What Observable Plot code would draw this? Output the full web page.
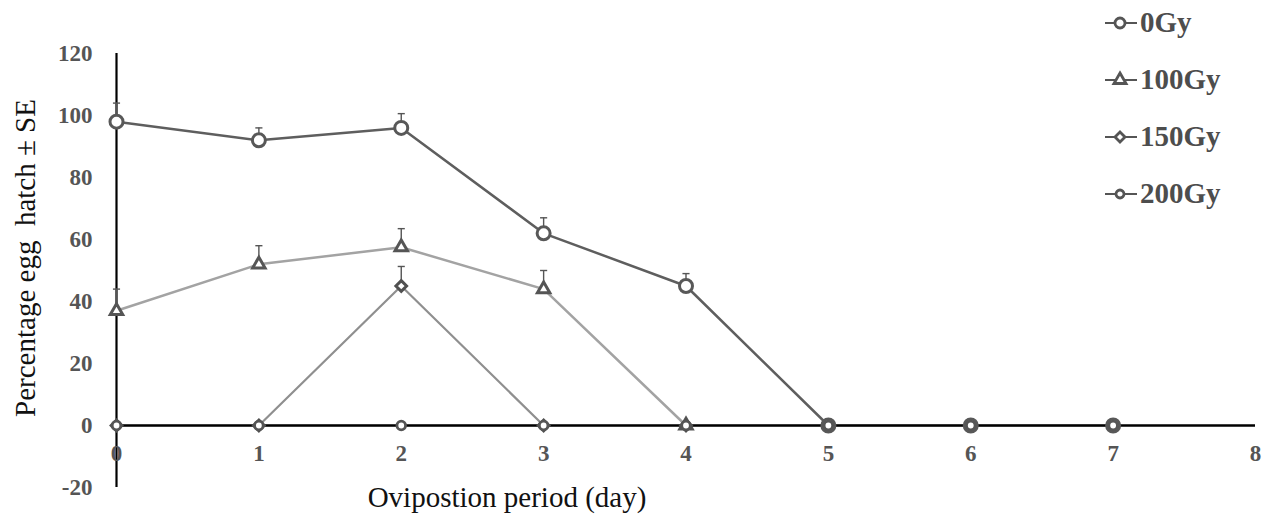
<!DOCTYPE html>
<html>
<head>
<meta charset="utf-8">
<script src="https://cdn.jsdelivr.net/npm/d3@7"></script>
<script src="https://cdn.jsdelivr.net/npm/@observablehq/plot@0.6"></script>
<style>
  html, body { margin: 0; padding: 0; background: #fff; }
  #wrap { position: relative; width: 1266px; height: 517px; overflow: hidden; font-family: "Liberation Serif", "DejaVu Serif", serif; }
  #wrap svg.plot { position: absolute; left: 0; top: 0; }
  #wrap svg.plot text { font-family: "Liberation Serif", "Times New Roman", serif; }
  .title { position: absolute; color: #111; font-size: 29px; white-space: pre; line-height: 1; }
  #ytitle { left: 25px; top: 258px; transform: translate(-50%, -50%) rotate(-90deg); }
  #xtitle { left: 507px; top: 497px; transform: translate(-50%, -50%); }
  #legend { position: absolute; left: 1100px; top: -6px; }
  .lg { display: flex; align-items: center; height: 57px; color: #4d4d4d; font-weight: bold; font-size: 29px; }
  .lg svg { margin-right: 2px; }
</style>
</head>
<body>
<div id="wrap">
  <div id="ytitle" class="title">Percentage egg  hatch ± SE</div>
  <div id="xtitle" class="title">Ovipostion period (day)</div>
  <div id="legend"></div>
</div>
<script>
// ---- data ----
const days = [0, 1, 2, 3, 4, 5, 6, 7];
const seriesNames = ["0Gy", "100Gy", "150Gy", "200Gy"];
const hatch0Gy   = [98, 92, 96, 62, 45, 0, 0, 0];
const hatch100Gy = [37, 52, 57.5, 44, 0, null, null, null];
const hatch150Gy = [0, 0, 45, 0, 0, null, null, null];
const hatch200Gy = [0, 0, 0, 0, 0, 0, 0, 0];
const se0Gy   = [6, 4, 4.6, 5, 4, 0, 0, 0];
const se100Gy = [7, 6, 6, 6, 0, 0, 0, 0];
const se150Gy = [0, 0, 6.3, 0, 0, 0, 0, 0];
const se200Gy = [0, 0, 0, 0, 0, 0, 0, 0];
const xTicks = [0, 1, 2, 3, 4, 5, 6, 7, 8];
const yTicks = [-20, 0, 20, 40, 60, 80, 100, 120];

const FONT = "Liberation Serif";

// ---- styles per series ----
const styles = {
  "0Gy":   {line: "#5e5e5e", lw: 2.5, symbol: "circle",   r: 6.5, mstroke: "#585858", msw: 3},
  "100Gy": {line: "#a3a3a3", lw: 2.5, symbol: "triangle", r: 4.6, mstroke: "#555555", msw: 3},
  "150Gy": {line: "#8f8f8f", lw: 2.2, symbol: "diamond2", r: 4.8, mstroke: "#505050", msw: 3},
  "200Gy": {line: "#666666", lw: 2,   symbol: "circle",   r: 4.3, mstroke: "#555555", msw: 2.8}
};

const values = [hatch0Gy, hatch100Gy, hatch150Gy, hatch200Gy];
const ses = [se0Gy, se100Gy, se150Gy, se200Gy];
const rows = [];
seriesNames.forEach((s, i) => {
  days.forEach((d, j) => {
    if (values[i][j] != null) rows.push({series: s, day: d, value: values[i][j], se: ses[i][j]});
  });
});
const errRows = rows.filter(r => r.se > 0);

const marks = [
  Plot.axisY(yTicks, {tickSize: 0, tickPadding: 24, fill: "#555", fontWeight: "bold", fontSize: 23, fontFamily: FONT, tickFormat: d => String(d), label: null}),
  Plot.ruleX([0], {stroke: "#000", strokeWidth: 2.2}),
  Plot.ruleY([0], {stroke: "#000", strokeWidth: 2})
];
// error bars (upper only)
marks.push(Plot.ruleX(errRows, {x: "day", y1: "value", y2: d => d.value + d.se, stroke: "#555", strokeWidth: 1.4}));
marks.push(Plot.link(errRows, {x1: d => d.day - 0.025, x2: d => d.day + 0.025, y1: d => d.value + d.se, y2: d => d.value + d.se, stroke: "#555", strokeWidth: 1.4}));
// lines
seriesNames.forEach(s => {
  const st = styles[s];
  marks.push(Plot.line(rows.filter(r => r.series === s), {x: "day", y: "value", stroke: st.line, strokeWidth: st.lw}));
});
marks.push(Plot.ruleY([0], {stroke: "#000", strokeWidth: 2}));
// markers
seriesNames.forEach(s => {
  const st = styles[s];
  marks.push(Plot.dot(rows.filter(r => r.series === s), {x: "day", y: "value", symbol: () => st.symbol, r: st.r, fill: "white", stroke: st.mstroke, strokeWidth: st.msw}));
});
// x tick labels along the zero line
marks.push(Plot.text(xTicks, {x: d => d, y: 0, dy: 28, text: d => String(d), fill: "#555", fontWeight: "bold", fontSize: 23, fontFamily: FONT}));

const chart = Plot.plot({
  width: 1266,
  height: 517,
  marginLeft: 116,
  marginRight: 11,
  marginTop: 53,
  marginBottom: 30,
  x: {domain: [0, 8], axis: null},
  y: {domain: [-20, 120], axis: null},
  symbol: {type: "identity"},
  style: {fontFamily: FONT, background: "white", overflow: "visible"},
  marks
});
chart.classList.add("plot");
document.getElementById("wrap").prepend(chart);

// ---- legend ----
const legend = document.getElementById("legend");
seriesNames.forEach(s => {
  const st = styles[s];
  const row = document.createElement("div");
  row.className = "lg";
  const ns = "http://www.w3.org/2000/svg";
  const svg = document.createElementNS(ns, "svg");
  svg.setAttribute("width", "38"); svg.setAttribute("height", "20");
  const ln = document.createElementNS(ns, "line");
  ln.setAttribute("x1", "5"); ln.setAttribute("x2", "37"); ln.setAttribute("y1", "10"); ln.setAttribute("y2", "10");
  ln.setAttribute("stroke", "#555"); ln.setAttribute("stroke-width", "2");
  svg.appendChild(ln);
  const path = document.createElementNS(ns, "path");
  const sym = st.symbol === "circle" ? d3.symbolCircle : st.symbol === "triangle" ? d3.symbolTriangle : d3.symbolDiamond2;
  const rr = s === "0Gy" ? 5 : s === "200Gy" ? 4 : 4.5;
  path.setAttribute("d", d3.symbol(sym, Math.PI * rr * rr)());
  path.setAttribute("transform", "translate(20,10)");
  path.setAttribute("fill", "white"); path.setAttribute("stroke", "#555"); path.setAttribute("stroke-width", "2.8");
  svg.appendChild(path);
  row.appendChild(svg);
  const t = document.createElement("span");
  t.textContent = s;
  row.appendChild(t);
  legend.appendChild(row);
});
</script>
</body>
</html>
